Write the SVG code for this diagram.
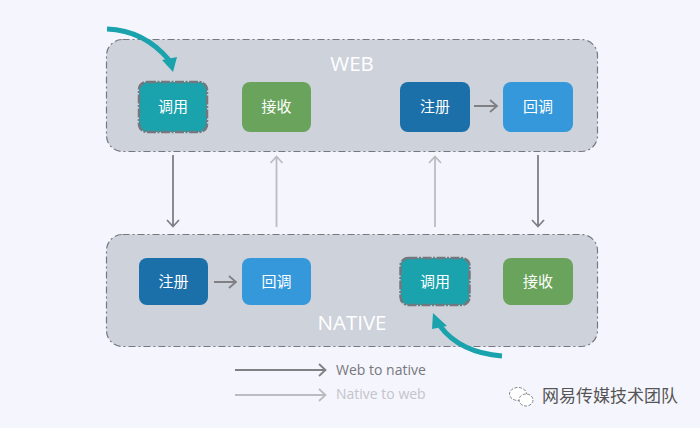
<svg xmlns="http://www.w3.org/2000/svg" width="700" height="428" viewBox="0 0 700 428">
<style>
text{font-family:"Open Sans","Noto Sans","Noto Sans CJK SC",sans-serif}
.cn{font-family:"Noto Sans CJK SC",sans-serif;font-size:15px;fill:#fff;text-anchor:middle}
.panel{fill:#ced2db;stroke:#77777f;stroke-width:1.2;stroke-dasharray:7 3 2 3}
.title{font-size:20.500px;fill:#fff;text-anchor:middle}
.dark{fill:none;stroke:#808084;stroke-width:1.8}
.light{fill:none;stroke:#bcbcc0;stroke-width:1.8}
.teal{fill:#1aa3ad;stroke:#74787e;stroke-width:2.5;stroke-dasharray:9 1.500 2 1.500}
</style>
<rect width="700" height="428" fill="#f5f5fd"/>
<g id="web"><rect class="panel" x="106.500" y="39.500" width="491" height="112" rx="16"/><text class="title" x="352" y="71">WEB</text></g>
<g id="native"><rect class="panel" x="106.500" y="234.500" width="491" height="112" rx="16"/><text class="title" x="352" y="330">NATIVE</text></g>
<g id="web-call"><rect class="teal" x="139" y="82" width="68" height="50" rx="8"/><text class="cn" x="173" y="112">调用</text></g>
<g id="web-recv"><rect x="242" y="82" width="69" height="50" rx="8" fill="#6aa45c"/><text class="cn" x="276.500" y="112">接收</text></g>
<g id="web-reg"><rect x="400" y="82" width="70" height="50" rx="8" fill="#1c70a9"/><text class="cn" x="435" y="112">注册</text></g>
<g id="web-cb"><rect x="503" y="82" width="70" height="50" rx="8" fill="#3498db"/><text class="cn" x="538" y="112">回调</text></g>
<g id="nat-reg"><rect x="139" y="258" width="69" height="47" rx="8" fill="#1c70a9"/><text class="cn" x="173.500" y="287">注册</text></g>
<g id="nat-cb"><rect x="242" y="258" width="69" height="47" rx="8" fill="#3498db"/><text class="cn" x="276.500" y="287">回调</text></g>
<g id="nat-call"><rect class="teal" x="400.500" y="258" width="69" height="47" rx="8"/><text class="cn" x="435" y="287">调用</text></g>
<g id="nat-recv"><rect x="503" y="258" width="70" height="47" rx="8" fill="#6aa45c"/><text class="cn" x="538" y="287">接收</text></g>
<g id="connectors">
<path class="dark" d="M173 155V226M167 220l6 6.500 6-6.500"/>
<path class="light" d="M276.500 227V157M270.500 163l6-6.500 6 6.500"/>
<path class="light" d="M435 227V157M429 163l6-6.500 6 6.500"/>
<path class="dark" d="M538 155V226M532 220l6 6.500 6-6.500"/>
<path class="dark" d="M474 106H497M490 100l7 6-7 6"/>
<path class="dark" d="M214 282H236M229 276l7 6-7 6"/>
<path d="M107 29C134 30 153 41 169 60" fill="none" stroke="#1aa3ad" stroke-width="5"/>
<path d="M173 72L162 60L177 57Z" fill="#1aa3ad"/>
<path d="M502 356C477 354 455 346 440 326" fill="none" stroke="#1aa3ad" stroke-width="5"/>
<path d="M433 313L447 326L432 329Z" fill="#1aa3ad"/>
</g>
<g id="legend">
<path class="dark" d="M235 370H325M319 364l6.500 6-6.500 6"/>
<path class="light" d="M235 395H325M319 389l6.500 6-6.500 6"/>
<text x="336" y="375" font-size="14px" font-weight="500" fill="#77777c">Web to native</text>
<text x="336" y="399" font-size="14px" font-weight="500" fill="#c4c4c9">Native to web</text>
</g>
<g id="watermark">
<text x="542" y="402" font-family="'Noto Sans CJK SC',sans-serif" font-size="17px" fill="#555">网易传媒技术团队</text>
<ellipse cx="518" cy="394" rx="8.500" ry="6.500" fill="#fff" stroke="#666" stroke-width="0.800" stroke-dasharray="3 1.500"/>
<ellipse cx="526" cy="400" rx="7" ry="6" fill="#fff" stroke="#666" stroke-width="0.800" stroke-dasharray="3 1.500"/>
</g>
</svg>
